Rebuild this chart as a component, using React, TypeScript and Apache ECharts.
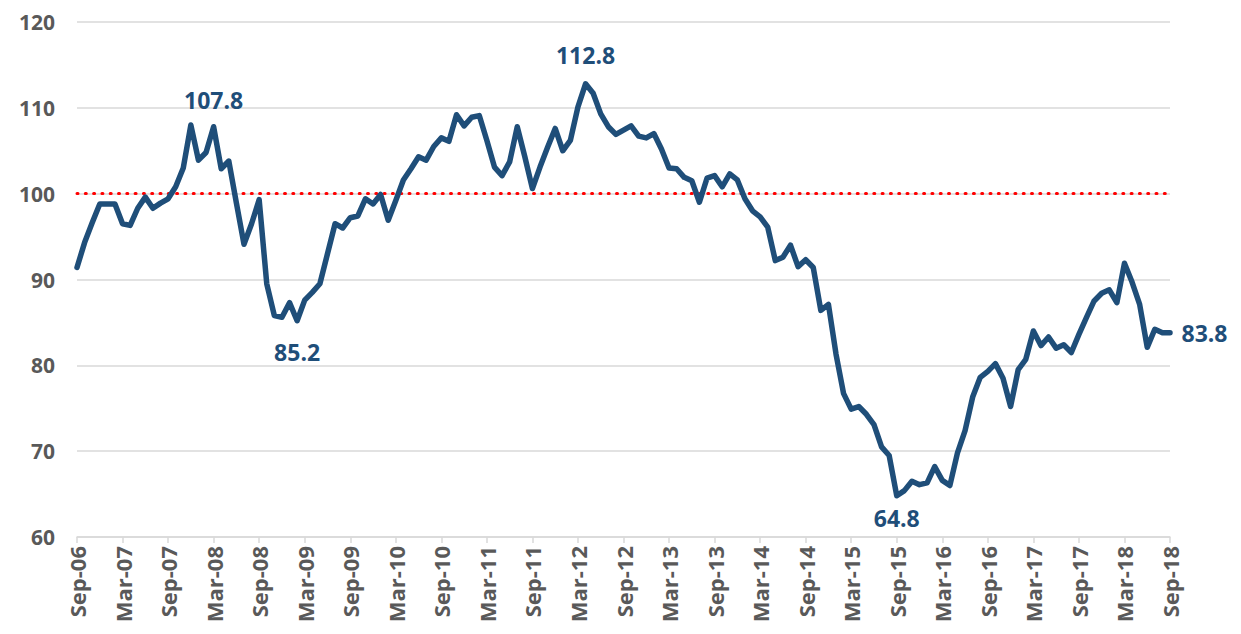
import React, { useEffect, useRef } from "react";
import * as echarts from "echarts";

const MONTH_NAMES = ["Jan", "Feb", "Mar", "Apr", "May", "Jun", "Jul", "Aug", "Sep", "Oct", "Nov", "Dec"];
const START_YEAR = 2006;
const START_MONTH = 8; // September
const MONTH_COUNT = 145;

const values = [
  91.4, 94.3, 96.6, 98.8, 98.8, 98.8, 96.5, 96.3, 98.3, 99.6, 98.3, 98.9,
  99.4, 100.8, 103.0, 108.0, 103.9, 104.8, 107.8, 102.9, 103.8, 98.9, 94.1, 96.5,
  99.3, 89.5, 85.8, 85.6, 87.3, 85.2, 87.6, 88.5, 89.5, 93.0, 96.5, 96.0,
  97.2, 97.4, 99.4, 98.8, 99.9, 96.9, 99.2, 101.6, 102.9, 104.3, 103.9, 105.5,
  106.5, 106.1, 109.2, 107.9, 108.9, 109.1, 106.2, 103.1, 102.1, 103.7, 107.8, 104.3,
  100.6, 103.1, 105.4, 107.6, 105.0, 106.2, 110.1, 112.8, 111.7, 109.3, 107.8, 106.9,
  107.4, 107.9, 106.7, 106.5, 107.0, 105.2, 103.0, 102.9, 101.9, 101.5, 99.0, 101.8,
  102.1, 100.8, 102.3, 101.6, 99.4, 98.0, 97.3, 96.1, 92.2, 92.6, 94.0, 91.5,
  92.3, 91.4, 86.4, 87.1, 81.3, 76.7, 74.9, 75.2, 74.3, 73.1, 70.5, 69.5,
  64.8, 65.4, 66.5, 66.1, 66.3, 68.2, 66.6, 66.0, 69.8, 72.4, 76.3, 78.6,
  79.3, 80.2, 78.5, 75.2, 79.5, 80.7, 84.0, 82.3, 83.3, 82.0, 82.4, 81.5,
  83.6, 85.6, 87.5, 88.4, 88.8, 87.3, 91.9, 89.7, 87.1, 82.1, 84.2, 83.8,
  83.8,
];

const referenceLevel = 100;
const labeledIndices = [18, 29, 67, 108, 144];

const categories: string[] = [];
for (let i = 0; i < MONTH_COUNT; i++) {
  const m = (START_MONTH + i) % 12;
  const y = START_YEAR + Math.floor((START_MONTH + i) / 12);
  categories.push(`${MONTH_NAMES[m]}-${String(y % 100).padStart(2, "0")}`);
}

const FONT = "'Open Sans', 'Noto Sans', sans-serif";
const LINE_COLOR = "#1F4E79";
const TEXT_GRAY = "#595959";
const GRID_GRAY = "#D9D9D9";

const labelPlacement: Record<number, { position: string; distance: number }> = {
  18: { position: "top", distance: 15 },
  29: { position: "bottom", distance: 19 },
  67: { position: "top", distance: 17 },
  108: { position: "bottom", distance: 10 },
  144: { position: "right", distance: 11 },
};

export default function App() {
  const ref = useRef<HTMLDivElement>(null);

  useEffect(() => {
    document.body.style.margin = "0";
    if (!ref.current) return;
    const chart = echarts.init(ref.current, undefined, { renderer: "svg" });

    const markData = labeledIndices.map((i) => ({
      coord: [categories[i], values[i]],
      value: values[i],
      label: {
        show: true,
        position: labelPlacement[i].position,
        distance: labelPlacement[i].distance,
        formatter: (p: any) => Number(p.value).toFixed(1),
        color: LINE_COLOR,
        fontFamily: FONT,
        fontWeight: "bold",
        fontSize: 23,
      },
    }));

    chart.setOption({
      animation: false,
      backgroundColor: "#ffffff",
      grid: { left: 77, right: 71, top: 22, bottom: 97, containLabel: false },
      xAxis: {
        type: "category",
        data: categories,
        boundaryGap: false,
        axisLine: { show: true, lineStyle: { color: GRID_GRAY, width: 1.5 } },
        axisTick: {
          show: true,
          interval: 5,
          length: 6,
          lineStyle: { color: GRID_GRAY, width: 1.5 },
        },
        axisLabel: {
          interval: 5,
          rotate: 90,
          margin: 9,
          color: TEXT_GRAY,
          fontFamily: FONT,
          fontWeight: "bold",
          fontSize: 22,
        },
        splitLine: { show: false },
      },
      yAxis: {
        type: "value",
        min: 60,
        max: 120,
        interval: 10,
        axisLine: { show: false },
        axisTick: { show: false },
        axisLabel: {
          margin: 22,
          color: TEXT_GRAY,
          fontFamily: FONT,
          fontWeight: "bold",
          fontSize: 21,
        },
        splitLine: { show: true, lineStyle: { color: GRID_GRAY, width: 1.5 } },
      },
      series: [
        {
          type: "line",
          data: values,
          showSymbol: false,
          symbol: "none",
          lineStyle: { color: LINE_COLOR, width: 5.5, join: "round", cap: "round" },
          z: 3,
          markLine: {
            silent: true,
            symbol: ["none", "none"],
            label: { show: false },
            lineStyle: { color: "#FF0000", width: 3, type: [1, 7.3], cap: "round" },
            data: [{ yAxis: referenceLevel }],
            z: 2,
          },
          markPoint: {
            silent: true,
            symbol: "circle",
            symbolSize: 1,
            itemStyle: { color: "rgba(0,0,0,0)" },
            data: markData,
          },
        },
      ],
    });

    return () => chart.dispose();
  }, []);

  return <div ref={ref} style={{ width: 1241, height: 634 }} />;
}
